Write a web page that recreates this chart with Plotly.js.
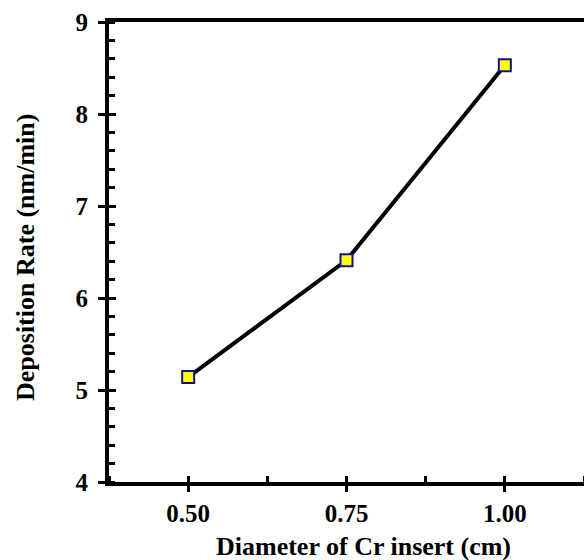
<!DOCTYPE html>
<html><head><meta charset="utf-8">
<script src="https://cdn.plot.ly/plotly-3.0.1.min.js"></script>
<style>body{margin:0;padding:0;background:#fff}</style>
</head><body>
<div id="chart" style="width:584px;height:560px"></div>
<script>
var diameters = [0.50, 0.75, 1.00];
var depositionRates = [5.14, 6.41, 8.53];
var xTickVals = [0.50, 0.75, 1.00];
var xTickText = ['0.50', '0.75', '1.00'];
var yTickVals = [4, 5, 6, 7, 8, 9];
var yTickText = ['4', '5', '6', '7', '8', '9'];
var xTitle = 'Diameter of Cr insert (cm)';
var yTitle = 'Deposition Rate (nm/min)';

var F = 'Liberation Serif';
var bold = function (s) { return '<b>' + s + '</b>'; };
var trace = {
  x: diameters, y: depositionRates, type: 'scatter', mode: 'lines+markers',
  line: {color: '#000', width: 4},
  marker: {symbol: 'square', size: 12, color: '#ffff00', line: {color: '#10108a', width: 2}},
  hoverinfo: 'skip', showlegend: false
};
var layout = {
  width: 584, height: 560,
  margin: {l: 109, r: 0, t: 22, b: 78},
  paper_bgcolor: '#fff', plot_bgcolor: '#fff',
  font: {family: F, color: '#000', size: 25},
  xaxis: {
    range: [0.375, 1.125], tickmode: 'array', tickvals: xTickVals, ticktext: xTickText.map(bold),
    ticks: 'outside', ticklen: 6, tickwidth: 3, tickcolor: '#000',
    minor: {ticks: 'inside', dtick: 0.125, tick0: 0.375, ticklen: 6, tickwidth: 3, tickcolor: '#000'},
    showline: true, linewidth: 4, linecolor: '#000', mirror: true,
    showgrid: false, zeroline: false, ticklabelstandoff: 0,
    tickfont: {family: F, size: 25, color: '#000'}
  },
  xaxis2: {
    overlaying: 'x', matches: 'x', range: [0.375, 1.125], tickmode: 'array', tickvals: xTickVals,
    ticks: 'inside', ticklen: 6, tickwidth: 3, tickcolor: '#000', showticklabels: false,
    showline: false, showgrid: false, zeroline: false, side: 'bottom'
  },
  yaxis: {
    range: [4, 9], tickmode: 'array', tickvals: yTickVals, ticktext: yTickText.map(bold),
    ticks: 'outside', ticklen: 7, tickwidth: 3, tickcolor: '#000',
    minor: {ticks: 'inside', dtick: 0.2, tick0: 4, ticklen: 6, tickwidth: 3, tickcolor: '#000'},
    showline: true, linewidth: 4, linecolor: '#000', mirror: false,
    showgrid: false, zeroline: false, ticklabelstandoff: 5,
    tickfont: {family: F, size: 25, color: '#000'}
  },
  yaxis2: {
    overlaying: 'y', matches: 'y', range: [4, 9], tickmode: 'array', tickvals: yTickVals,
    ticks: 'inside', ticklen: 7, tickwidth: 3, tickcolor: '#000', showticklabels: false,
    showline: false, showgrid: false, zeroline: false, side: 'left'
  },
  annotations: [
    {text: bold(xTitle), xref: 'paper', yref: 'paper', x: 0.535, y: -0.1413,
     xanchor: 'center', yanchor: 'middle', showarrow: false, font: {family: F, size: 26, color: '#000'}},
    {text: bold(yTitle), xref: 'paper', yref: 'paper', x: -0.1747, y: 0.487, textangle: -90,
     xanchor: 'center', yanchor: 'middle', showarrow: false, font: {family: F, size: 26, color: '#000'}}
  ]
};
var ghost = {x: [diameters[0]], y: [depositionRates[0]], xaxis: 'x2', yaxis: 'y2', type: 'scatter', mode: 'none', hoverinfo: 'skip', showlegend: false};
Plotly.newPlot('chart', [ghost, trace], layout, {staticPlot: true, displayModeBar: false});
</script>
</body></html>
